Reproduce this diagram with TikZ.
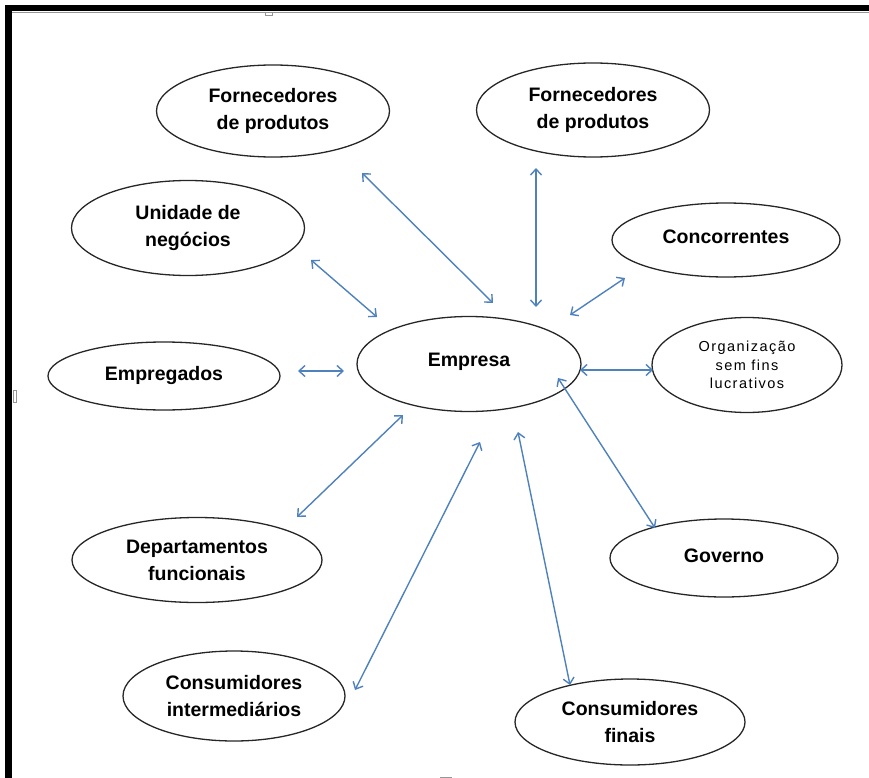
\documentclass[tikz,border=0pt]{standalone}
\usepackage{fontspec}
\setmainfont{Liberation Sans}
\usepackage{tikz}
\usetikzlibrary{arrows.meta, shapes.geometric}
\definecolor{linkblue}{RGB}{79, 129, 189}
\definecolor{handlegray}{RGB}{150, 150, 150}

\begin{document}
\begin{tikzpicture}[
    x=1pt, y=-1pt,
    stake/.style={draw=black!85, ellipse, line width=1.3pt, inner sep=0pt,
                 align=center, font=\fontsize{19.5}{27}\selectfont\bfseries},
    small/.style={font=\fontsize{14.5}{18.5}\selectfont\addfontfeature{LetterSpace=10}},
    link/.style={{Straight Barb[length=6pt, width=11pt]}-{Straight Barb[length=6pt, width=11pt]},
                 draw=linkblue, line width=1.4pt},
  ]
    \useasboundingbox (0,0) rectangle (869,778);

    % Frame
    \fill[black] (5,5) rectangle (869,11.5);
    \fill[black] (5,5) rectangle (12,778);
    \draw[handlegray, line width=0.8pt] (12,12.2) -- (869,12.2);
    \draw[handlegray, line width=0.6pt] (265,12) rectangle (272,15.5);
    \draw[handlegray, line width=0.6pt] (13,390) rectangle (16.5,402);
    \fill[handlegray] (440,776.5) rectangle (452,778);

    % Empresa
    \node[stake, minimum width=224pt, minimum height=95pt] (emp) at (469,364)
      {\raisebox{9pt}{Empresa}};

    % Upper row
    \node[stake, minimum width=233pt, minimum height=92pt] (forA) at (273,111)
      {Fornecedores\\de produtos};
    \node[stake, minimum width=233pt, minimum height=94pt] (forB) at (593,110)
      {Fornecedores\\de produtos};

    % Left side
    \node[stake, minimum width=233pt, minimum height=95pt] (unid) at (188,228)
      {Unidade de\\negócios};
    \node[stake, minimum width=232pt, minimum height=68pt] (empg) at (164,376)
      {\raisebox{5pt}{Empregados}};
    \node[stake, minimum width=250pt, minimum height=85pt] (dept) at (197,560)
      {Departamentos\\funcionais};

    % Right side
    \node[stake, minimum width=228pt, minimum height=74pt] (conc) at (726,240)
      {\raisebox{6pt}{Concorrentes}};
    \node[stake, small, minimum width=190pt, minimum height=95pt] (org) at (747,365)
      {Organização\\sem fins\\lucrativos};
    \node[stake, minimum width=228pt, minimum height=78pt] (gov) at (724,558)
      {\raisebox{5pt}{Governo}};

    % Lower row
    \node[stake, minimum width=222pt, minimum height=90pt] (cint) at (234,696)
      {Consumidores\\intermediários};
    \node[stake, minimum width=230pt, minimum height=86pt] (cfin) at (630,722)
      {Consumidores\\finais};

    % Arrow ends
    \coordinate (forA-e) at (362,173);  \coordinate (emp-forA) at (493,303);
    \coordinate (forB-e) at (536,168);  \coordinate (emp-forB) at (536,307);
    \coordinate (unid-e) at (311,260);  \coordinate (emp-unid) at (377,317);
    \coordinate (conc-e) at (625,278);  \coordinate (emp-conc) at (570,315);
    \coordinate (empg-e) at (298,371);  \coordinate (emp-empg) at (344,371);
    \coordinate (org-e)  at (653,370);  \coordinate (emp-org)  at (580,370);
    \coordinate (dept-e) at (297,517);  \coordinate (emp-dept) at (403,415);
    \coordinate (cint-e) at (355,690);  \coordinate (emp-cint) at (480,442);
    \coordinate (cfin-e) at (570,685);  \coordinate (emp-cfin) at (518,432);
    \coordinate (gov-e)  at (655,528);  \coordinate (emp-gov)  at (558,378);

    % Arrows
    \draw[link] (forA-e) -- (emp-forA);
    \draw[link] (forB-e) -- (emp-forB);
    \draw[link] (unid-e) -- (emp-unid);
    \draw[link] (conc-e) -- (emp-conc);
    \draw[link] (empg-e) -- (emp-empg);
    \draw[link] (org-e) -- (emp-org);
    \draw[link] (dept-e) -- (emp-dept);
    \draw[link] (cint-e) -- (emp-cint);
    \draw[link] (cfin-e) -- (emp-cfin);
    \draw[link] (gov-e) -- (emp-gov);
  \end{tikzpicture}
\end{document}
